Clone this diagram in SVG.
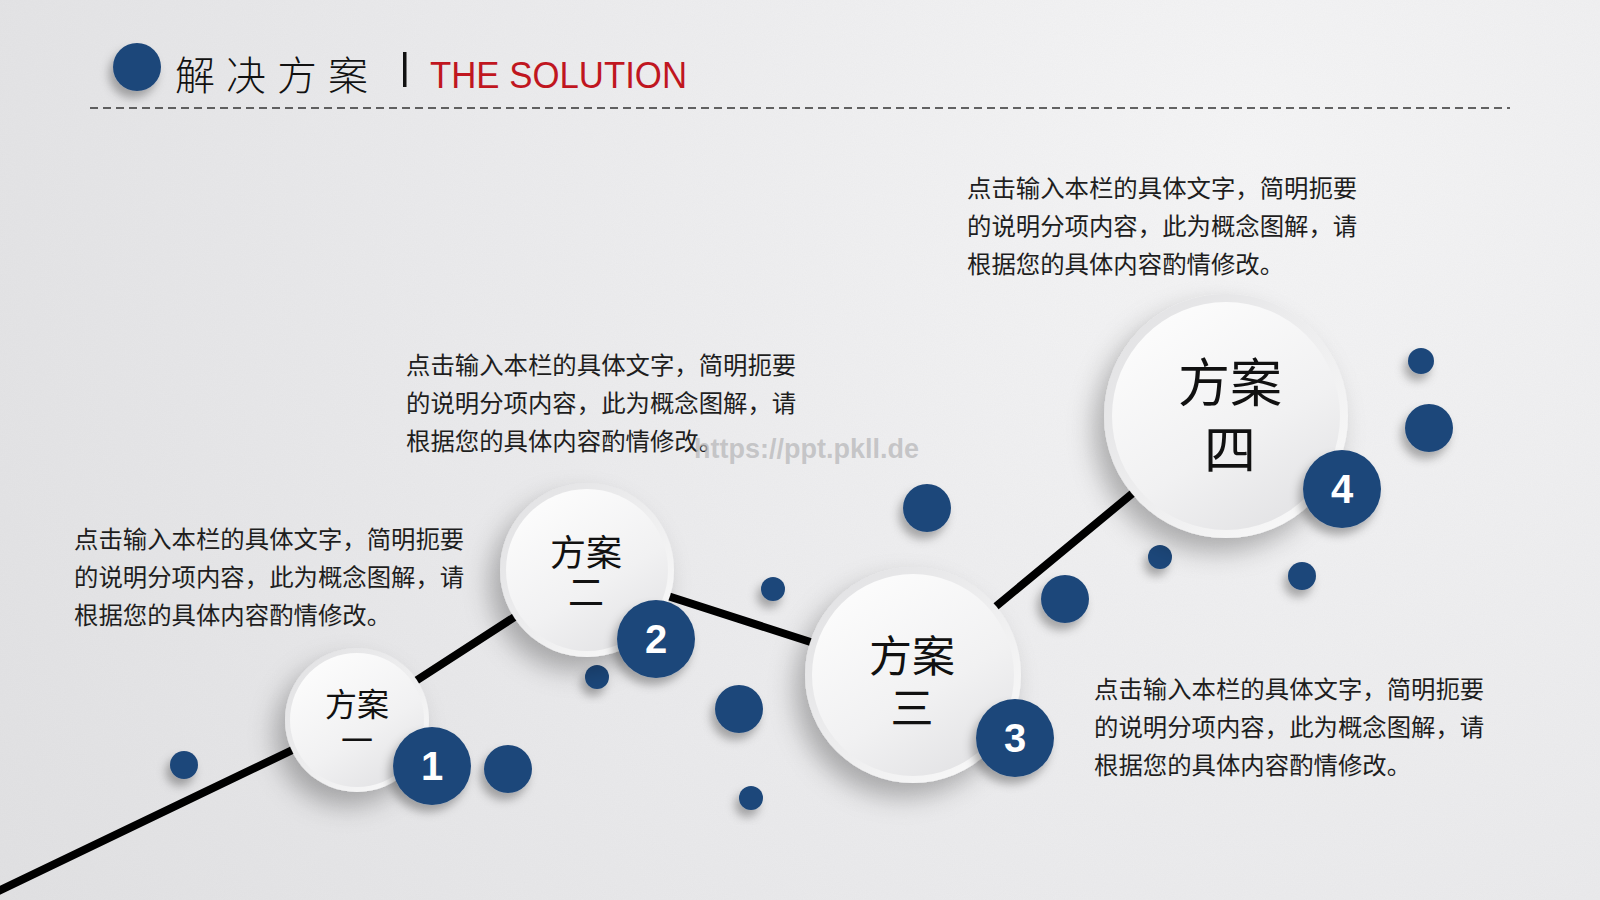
<svg xmlns="http://www.w3.org/2000/svg" width="1600" height="900" viewBox="0 0 1600 900">
<defs>
  <radialGradient id="bg" cx="1250" cy="150" r="1500" gradientUnits="userSpaceOnUse">
    <stop offset="0" stop-color="#f5f5f6"/>
    <stop offset="0.55" stop-color="#eaeaec"/>
    <stop offset="1" stop-color="#e0e0e2"/>
  </radialGradient>
  <linearGradient id="rim" x1="0" y1="0" x2="1" y2="1">
    <stop offset="0" stop-color="#e0e0e2"/>
    <stop offset="1" stop-color="#fbfbfb"/>
  </linearGradient>
  <linearGradient id="disc" x1="0.2" y1="0" x2="0.8" y2="1">
    <stop offset="0" stop-color="#fdfdfd"/>
    <stop offset="0.6" stop-color="#f1f1f2"/>
    <stop offset="1" stop-color="#e2e2e4"/>
  </linearGradient>
  <filter id="shadowBig" x="-50%" y="-50%" width="200%" height="200%">
    <feDropShadow dx="-10" dy="14" stdDeviation="13" flood-color="#000" flood-opacity="0.28"/>
  </filter>
  <filter id="shadowSmall" x="-60%" y="-60%" width="220%" height="220%">
    <feDropShadow dx="-4" dy="7" stdDeviation="5" flood-color="#000" flood-opacity="0.3"/>
  </filter>
  <filter id="grain" x="0" y="0" width="100%" height="100%">
    <feTurbulence type="fractalNoise" baseFrequency="0.9" numOctaves="2" seed="3" result="n"/>
    <feColorMatrix type="matrix" values="0 0 0 0 0.5  0 0 0 0 0.5  0 0 0 0 0.5  0 0 0 0.08 0"/>
  </filter>
  <style>
    .para { font-family: "Noto Sans CJK SC", "Liberation Sans", sans-serif; font-size: 24.4px; fill: #1e1e1e; }
    .lbl { font-family: "Noto Sans CJK SC", sans-serif; fill: #111; text-anchor: middle; }
    .num { font-family: "Liberation Sans", "Open Sans", sans-serif; font-weight: bold; font-size: 40px; fill: #ffffff; text-anchor: middle; }
    .badge { fill: #1d477a; filter: url(#shadowSmall); }
    .dot { fill: #1d477a; filter: url(#shadowSmall); }
    .rim { fill: url(#rim); filter: url(#shadowBig); }
    .disc { fill: url(#disc); }
  </style>
</defs>

<!-- background -->
<rect x="0" y="0" width="1600" height="900" fill="url(#bg)"/>
<rect x="0" y="0" width="1600" height="900" filter="url(#grain)"/>

<!-- header -->
<g id="header">
  <circle cx="137" cy="67" r="24" fill="#1d477a" filter="url(#shadowSmall)"/>
  <text x="175" y="90" font-family="Noto Sans CJK SC, sans-serif" font-size="40" font-weight="300" letter-spacing="11" fill="#111">解决方案</text>
  <rect x="403" y="52" width="3.5" height="35" fill="#111"/>
  <text x="430" y="88" font-family="Liberation Sans, Arial, sans-serif" font-size="36" fill="#c0161f" textLength="257" lengthAdjust="spacingAndGlyphs">THE SOLUTION</text>
  <line x1="90" y1="108" x2="1510" y2="108" stroke="#333" stroke-width="1.6" stroke-dasharray="8 5"/>
</g>

<!-- connectors -->
<g id="connectors">
  <polyline points="-10,895 357,719 587,570 913,675 1226,416" fill="none" stroke="#000" stroke-width="8" stroke-linejoin="round"/>
</g>

<!-- decorative dots -->
<g id="dots">
  <circle class="dot" cx="184" cy="765" r="14"/>
  <circle class="dot" cx="508" cy="769" r="24"/>
  <circle class="dot" cx="597" cy="677" r="12"/>
  <circle class="dot" cx="773" cy="589" r="12"/>
  <circle class="dot" cx="739" cy="709" r="24"/>
  <circle class="dot" cx="751" cy="798" r="12"/>
  <circle class="dot" cx="927" cy="508" r="24"/>
  <circle class="dot" cx="1065" cy="599" r="24"/>
  <circle class="dot" cx="1160" cy="557" r="12"/>
  <circle class="dot" cx="1302" cy="576" r="14"/>
  <circle class="dot" cx="1421" cy="361" r="13"/>
  <circle class="dot" cx="1429" cy="428" r="24"/>
</g>

<!-- node 1 -->
<g id="node1">
  <circle class="rim" cx="357" cy="720" r="72"/>
  <circle class="disc" cx="357" cy="720" r="67"/>
  <text class="lbl" font-size="32"><tspan x="357" y="716">方案</tspan><tspan x="357" y="752">一</tspan></text>
  <circle class="badge" cx="432" cy="766" r="39"/>
  <text class="num" x="432" y="780">1</text>
</g>

<!-- node 2 -->
<g id="node2">
  <circle class="rim" cx="587" cy="570" r="87"/>
  <circle class="disc" cx="587" cy="570" r="81"/>
  <text class="lbl" font-size="36"><tspan x="586" y="566">方案</tspan><tspan x="586" y="606">二</tspan></text>
  <circle class="badge" cx="656" cy="639" r="39"/>
  <text class="num" x="656" y="653">2</text>
</g>

<!-- node 3 -->
<g id="node3">
  <circle class="rim" cx="913" cy="675" r="108"/>
  <circle class="disc" cx="913" cy="675" r="101"/>
  <text class="lbl" font-size="43"><tspan x="912" y="672">方案</tspan><tspan x="912" y="724">三</tspan></text>
  <circle class="badge" cx="1015" cy="738" r="39"/>
  <text class="num" x="1015" y="752">3</text>
</g>

<!-- node 4 -->
<g id="node4">
  <circle class="rim" cx="1226" cy="416" r="122"/>
  <circle class="disc" cx="1226" cy="416" r="114"/>
  <text class="lbl" font-size="52"><tspan x="1230" y="402">方案</tspan><tspan x="1230" y="469">四</tspan></text>
  <circle class="badge" cx="1342" cy="489" r="39"/>
  <text class="num" x="1342" y="503">4</text>
</g>

<!-- descriptions -->
<g id="text1">
  <text class="para" x="74" y="548">点击输入本栏的具体文字，简明扼要</text>
  <text class="para" x="74" y="586">的说明分项内容，此为概念图解，请</text>
  <text class="para" x="74" y="624">根据您的具体内容酌情修改。</text>
</g>
<g id="text2">
  <text class="para" x="406" y="374">点击输入本栏的具体文字，简明扼要</text>
  <text class="para" x="406" y="412">的说明分项内容，此为概念图解，请</text>
  <text class="para" x="406" y="450">根据您的具体内容酌情修改。</text>
</g>
<g id="text3">
  <text class="para" x="967" y="197">点击输入本栏的具体文字，简明扼要</text>
  <text class="para" x="967" y="235">的说明分项内容，此为概念图解，请</text>
  <text class="para" x="967" y="273">根据您的具体内容酌情修改。</text>
</g>
<g id="text4">
  <text class="para" x="1094" y="698">点击输入本栏的具体文字，简明扼要</text>
  <text class="para" x="1094" y="736">的说明分项内容，此为概念图解，请</text>
  <text class="para" x="1094" y="774">根据您的具体内容酌情修改。</text>
</g>

<!-- watermark -->
<text x="694" y="458" font-family="Liberation Sans, sans-serif" font-size="27" font-weight="bold" fill="#b4b4b6" fill-opacity="0.7">https://ppt.pkll.de</text>
</svg>
